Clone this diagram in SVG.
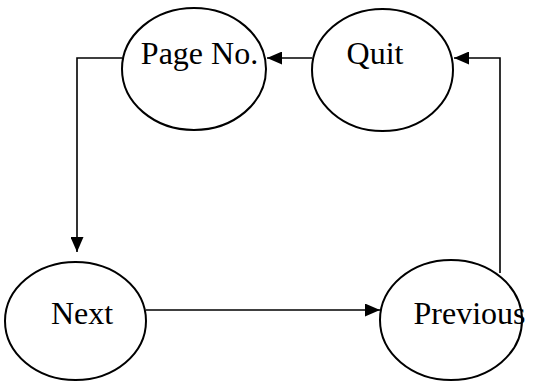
<svg xmlns="http://www.w3.org/2000/svg" width="534" height="381" viewBox="0 0 534 381">
<style>
.node ellipse{fill:#fff;stroke:#000;stroke-width:2}
.node text{font-family:"Liberation Serif","Times New Roman",serif;font-size:32px;fill:#000;text-anchor:middle}
.edges path{fill:none;stroke:#000;stroke-width:1.6}
</style>
<defs>
<marker id="ah" markerWidth="15" markerHeight="13" refX="15" refY="6.5" orient="auto" markerUnits="userSpaceOnUse">
<path d="M0,0 L15,6.5 L0,13 Z" fill="#000"/>
</marker>
</defs>
<rect width="534" height="381" fill="#fff"/>
<g class="edges">
<path d="M312,58 L267,58" marker-end="url(#ah)"/>
<path d="M122,58 L77,58 L77,252" marker-end="url(#ah)"/>
<path d="M146,310 L380,310" marker-end="url(#ah)"/>
<path d="M500,273 L500,58 L454,58" marker-end="url(#ah)"/>
</g>
<g id="pageno" class="node">
<ellipse cx="194" cy="69" rx="72" ry="61"/>
<text x="199.5" y="64">Page No.</text>
</g>
<g id="quit" class="node">
<ellipse cx="382.5" cy="70" rx="70.5" ry="61"/>
<text x="375" y="64">Quit</text>
</g>
<g id="next" class="node">
<ellipse cx="75.5" cy="321" rx="70.5" ry="59"/>
<text x="82" y="324">Next</text>
</g>
<g id="previous" class="node">
<ellipse cx="451" cy="320" rx="71" ry="60"/>
<text x="469.5" y="324">Previous</text>
</g>
</svg>
